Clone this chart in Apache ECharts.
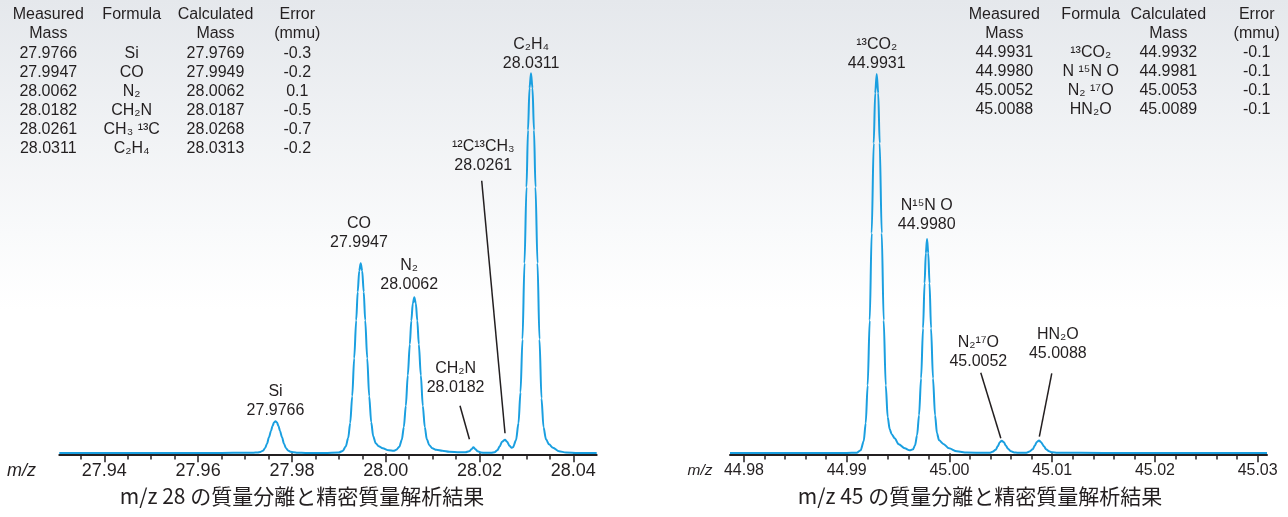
<!DOCTYPE html>
<html>
<head>
<meta charset="utf-8">
<script src="https://cdn.jsdelivr.net/npm/echarts@6/dist/echarts.min.js"></script>
<style>
html,body{margin:0;padding:0;background:#fff;}
#chart{width:1288px;height:517px;}
</style>
</head>
<body>
<div id="chart"></div>
<script>
// ---------- DATA ----------
// m/z 28 spectrum (m/z, relative intensity)
const leftMz = [27.9304, 27.9500, 27.9650, 27.9700, 27.97181, 27.97266, 27.9733, 27.97383, 27.97426, 27.97469, 27.97511, 27.97554, 27.97586, 27.97618, 27.9765, 27.97682, 27.97714, 27.97746, 27.97789, 27.97831, 27.97874, 27.97917, 27.9797, 27.98034, 27.98119, 27.9829, 27.9870, 27.98998, 27.99083, 27.99147, 27.9920, 27.99243, 27.99286, 27.99328, 27.99371, 27.99403, 27.99435, 27.99467, 27.99499, 27.99531, 27.99563, 27.99606, 27.99648, 27.99691, 27.99734, 27.99787, 27.99851, 27.99936, 28.00064, 28.0017, 28.00226, 28.0029, 28.00343, 28.00386, 28.00429, 28.00471, 28.00514, 28.00546, 28.00578, 28.0061, 28.00642, 28.00674, 28.00706, 28.00749, 28.00791, 28.00834, 28.00877, 28.0093, 28.00994, 28.01079, 28.01207, 28.01356, 28.0157, 28.0170, 28.0178, 28.0183, 28.0187, 28.0191, 28.0196, 28.0203, 28.0212, 28.0225, 28.0232, 28.0238, 28.0243, 28.0248, 28.02544, 28.0259, 28.0264, 28.0268, 28.02714, 28.02778, 28.02831, 28.02874, 28.02917, 28.02959, 28.03002, 28.03034, 28.03066, 28.03098, 28.0313, 28.03162, 28.03194, 28.03237, 28.03279, 28.03322, 28.03365, 28.03418, 28.03482, 28.03567, 28.03695, 28.03844, 28.0410, 28.04499];
const leftIntensity = [0.3, 0.3, 0.4, 0.5, 0.6, 0.8, 1.4, 2.6, 5.1, 9.6, 16, 22.4, 27.2, 30.7, 32, 30.7, 27.2, 22.4, 16, 9.6, 5.1, 2.8, 1.6, 1.0, 0.6, 0.4, 0.4, 0.8, 2.3, 6.7, 15.2, 30.4, 57, 95, 133, 161.5, 182.4, 190, 182.4, 161.5, 133, 95, 57, 31, 17, 10, 7, 5, 3, 2.5, 3.5, 6.5, 13.5, 26, 47.5, 78, 109, 132.6, 150, 156, 150, 132.6, 109, 78, 47.5, 26, 14, 8, 5, 3.5, 2.5, 1.5, 1.0, 1.0, 2.0, 4.0, 6.0, 4.2, 2.0, 0.8, 0.5, 0.6, 1.0, 3.0, 7.0, 11.5, 13.5, 11.5, 7.5, 5.6, 6, 13, 30, 61, 114, 190, 266, 323, 365, 380, 365, 323, 266, 190, 114, 55, 26, 14, 9, 5.5, 2, 0.8, 0.4, 0.3];

// m/z 45 spectrum
const rightMz = [44.97864, 44.9850, 44.9900, 44.99097, 44.99136, 44.99165, 44.99185, 44.99204, 44.99224, 44.99243, 44.99263, 44.99277, 44.99292, 44.99307, 44.99321, 44.99341, 44.9936, 44.9938, 44.99399, 44.99419, 44.99438, 44.99467, 44.99506, 44.99565, 44.99613, 44.99646, 44.99665, 44.99685, 44.99704, 44.99724, 44.99743, 44.99758, 44.9977, 44.99782, 44.99794, 44.99806, 44.99821, 44.9984, 44.9986, 44.99879, 44.99899, 44.99941, 44.99996, 45.00071, 45.0017, 45.0035, 45.0039, 45.0042, 45.0045, 45.0047, 45.0049, 45.00509, 45.0053, 45.0055, 45.0057, 45.0060, 45.0063, 45.0066, 45.0075, 45.0078, 45.0081, 45.0083, 45.0085, 45.00872, 45.0089, 45.0092, 45.0094, 45.0097, 45.0100, 45.0105, 45.0150, 45.03091];
const rightIntensity = [0.3, 0.3, 0.4, 0.5, 3, 12, 30, 68, 133, 220, 310, 360, 379.4, 360, 310, 220, 133, 68, 36, 24, 19, 15, 9, 5, 3, 4, 8, 18, 38, 75, 125, 170, 200, 214.4, 200, 170, 125, 75, 38, 20, 13, 9.4, 5, 2, 0.8, 0.5, 0.5, 1.5, 3.5, 7, 11, 12.6, 11, 7.5, 4.5, 2, 0.8, 0.6, 0.6, 1.8, 4, 7.5, 11.3, 12.8, 11.3, 7, 4, 2, 1, 0.6, 0.4, 0.3];

// axis ticks
const leftTickLabels = [27.94, 27.96, 27.98, 28.00, 28.02, 28.04];
const leftMinorTicks = [27.935, 27.94, 27.945, 27.95, 27.955, 27.96, 27.965, 27.97, 27.975, 27.98, 27.985, 27.99, 27.995, 28.00, 28.005, 28.01, 28.015, 28.02, 28.025, 28.03, 28.035, 28.04];
const rightTickLabels = [44.98, 44.99, 45.00, 45.01, 45.02, 45.03];
const rightMinorTicks = [44.980, 44.982, 44.984, 44.986, 44.988, 44.990, 44.992, 44.994, 44.996, 44.998, 45.000, 45.002, 45.004, 45.006, 45.008, 45.010, 45.012, 45.014, 45.016, 45.018, 45.020, 45.022, 45.024, 45.026, 45.028, 45.030];

// peak annotations
const leftPeakNames = ['Si', 'CO', 'N₂', 'CH₂N', '¹²C¹³CH₃', 'C₂H₄'];
const leftPeakMasses = ['27.9766', '27.9947', '28.0062', '28.0182', '28.0261', '28.0311'];
const rightPeakNames = ['¹³CO₂', 'N¹⁵N O', 'N₂¹⁷O', 'HN₂O'];
const rightPeakMasses = ['44.9931', '44.9980', '45.0052', '45.0088'];

// tables
const tableHeader1 = ['Measured', 'Formula', 'Calculated', 'Error'];
const tableHeader2 = ['Mass', '', 'Mass', '(mmu)'];
const leftMeasured = ['27.9766', '27.9947', '28.0062', '28.0182', '28.0261', '28.0311'];
const leftFormula = ['Si', 'CO', 'N₂', 'CH₂N', 'CH₃ ¹³C', 'C₂H₄'];
const leftCalculated = ['27.9769', '27.9949', '28.0062', '28.0187', '28.0268', '28.0313'];
const leftError = ['-0.3', '-0.2', '0.1', '-0.5', '-0.7', '-0.2'];
const rightMeasured = ['44.9931', '44.9980', '45.0052', '45.0088'];
const rightFormula = ['¹³CO₂', 'N ¹⁵N O', 'N₂ ¹⁷O', 'HN₂O'];
const rightCalculated = ['44.9932', '44.9981', '45.0053', '45.0089'];
const rightError = ['-0.1', '-0.1', '-0.1', '-0.1'];

const leftTitle = 'm/z 28 の質量分離と精密質量解析結果';
const rightTitle = 'm/z 45 の質量分離と精密質量解析結果';

// ---------- LAYOUT (annotation anchors in data units) ----------
const leftLabelAt = [[27.9765, 51.9], [27.9943, 220.4], [28.0050, 178.3], [28.0149, 75.1], [28.0208, 296.9], [28.0310, 399.1]];
const rightLabelAt = [[44.99292, 399.1], [44.99779, 238.3], [45.00281, 101.1], [45.01055, 109.1]];
const leftLeaders = [[[28.01584, 47.6], [28.01785, 14]], [[28.02047, 272.6], [28.02544, 20]]];
const rightLeaders = [[[45.00305, 80.6], [45.0050, 15]], [[45.00996, 80], [45.00875, 16.6]]];

// ---------- STYLE ----------
const INK = '#231f20';
const BLUE = '#1a9fe0';
const SANS = "'Liberation Sans', Arial, 'DejaVu Sans', sans-serif";
const CJK = "'Noto Sans CJK JP', 'Noto Sans', sans-serif";

function zip(a, b) { return a.map((v, i) => [v, b[i]]); }

function labelPoints(names, masses, pos) {
  return names.map((n, i) => ({
    name: n,
    coord: pos[i],
    label: { formatter: n + '\n' + masses[i] }
  }));
}
function leaderLines(list) {
  return list.map(l => [{ coord: l[0] }, { coord: l[1] }]);
}

function makeXAxes(gridIndex, min, max, minor, major, fontSize) {
  return [
    {
      type: 'value', gridIndex, min, max, position: 'bottom',
      splitLine: { show: false },
      axisLine: { show: true, onZero: false, lineStyle: { color: INK, width: 2 } },
      axisTick: { show: true, customValues: minor, length: 5, lineStyle: { color: INK, width: 1.5 } },
      axisLabel: {
        show: true, customValues: major, margin: 8,
        formatter: v => Number(v).toFixed(2),
        color: INK, fontSize, fontFamily: SANS
      }
    },
    {
      type: 'value', gridIndex, min, max, position: 'bottom',
      splitLine: { show: false },
      axisLine: { show: false },
      axisTick: { show: true, customValues: major, length: 9, lineStyle: { color: INK, width: 1.5 } },
      axisLabel: { show: false }
    }
  ];
}

function seriesFor(xIdx, yIdx, data, labels, leaders) {
  return {
    type: 'line', xAxisIndex: xIdx, yAxisIndex: yIdx,
    data, showSymbol: false, smooth: 0.3, smoothMonotone: 'x',
    lineStyle: { color: BLUE, width: 2 },
    itemStyle: { color: BLUE },
    z: 5,
    markPoint: {
      symbol: 'circle', symbolSize: 1,
      itemStyle: { color: 'rgba(0,0,0,0)' },
      label: {
        show: true, position: 'inside', color: INK,
        fontSize: 16, lineHeight: 18.7, fontFamily: SANS, align: 'center'
      },
      data: labels, silent: true, animation: false
    },
    markLine: {
      symbol: ['none', 'none'], silent: true, animation: false,
      lineStyle: { color: INK, width: 1.5, type: 'solid' },
      label: { show: false },
      data: leaders
    }
  };
}

function textEl(text, x, y, size, family, extra) {
  return Object.assign({
    type: 'text', x, y, silent: true,
    style: Object.assign({
      text, fill: INK, fontSize: size, fontFamily: family,
      align: 'center', verticalAlign: 'middle',
      textAlign: 'center', textVerticalAlign: 'middle'
    }, extra || {})
  });
}

function tableEls(cols, h1Y, h2Y, rowY0, rowStep, columns) {
  const els = [];
  cols.forEach((cx, c) => {
    els.push(textEl(tableHeader1[c], cx, h1Y, 16, SANS));
    if (tableHeader2[c]) els.push(textEl(tableHeader2[c], cx, h2Y, 16, SANS));
    columns[c].forEach((t, r) => els.push(textEl(t, cx, rowY0 + r * rowStep, 16, SANS)));
  });
  return els;
}

const graphics = []
  .concat(tableEls([48.3, 131.7, 215.5, 297.3], 15, 34, 53.3, 19.15,
    [leftMeasured, leftFormula, leftCalculated, leftError]))
  .concat(tableEls([1004.3, 1090.7, 1168.3, 1256.7], 15, 33.5, 52.7, 19.1,
    [rightMeasured, rightFormula, rightCalculated, rightError]))
  .concat([
    textEl(leftTitle, 302, 496, 21, CJK),
    textEl(rightTitle, 980, 496, 21, CJK),
    textEl('m/z', 21.5, 471, 18, SANS, { fontStyle: 'italic' }),
    textEl('m/z', 700, 471, 15.5, SANS, { fontStyle: 'italic' })
  ]);

const chart = echarts.init(document.getElementById('chart'), null, { renderer: 'canvas' });
chart.setOption({
  animation: false,
  backgroundColor: {
    type: 'linear', x: 0, y: 0, x2: 0, y2: 1,
    colorStops: [
      { offset: 0, color: '#e5e8ec' },
      { offset: 0.45, color: '#f9fafb' },
      { offset: 0.6, color: '#ffffff' },
      { offset: 1, color: '#ffffff' }
    ]
  },
  grid: [
    { left: 59.3, width: 537.4, top: 16, bottom: 62.5, containLabel: false },
    { left: 730, width: 537, top: 16, bottom: 62.5, containLabel: false }
  ],
  xAxis: []
    .concat(makeXAxes(0, 27.9304, 28.04499, leftMinorTicks, leftTickLabels, 18))
    .concat(makeXAxes(1, 44.97864, 45.03091, rightMinorTicks, rightTickLabels, 16)),
  yAxis: [
    { type: 'value', gridIndex: 0, min: -1.2, max: 437.3, show: false },
    { type: 'value', gridIndex: 1, min: -1.2, max: 437.3, show: false }
  ],
  series: [
    seriesFor(0, 0, zip(leftMz, leftIntensity),
      labelPoints(leftPeakNames, leftPeakMasses, leftLabelAt), leaderLines(leftLeaders)),
    seriesFor(2, 1, zip(rightMz, rightIntensity),
      labelPoints(rightPeakNames, rightPeakMasses, rightLabelAt), leaderLines(rightLeaders))
  ],
  graphic: { elements: graphics }
});
</script>
</body>
</html>
